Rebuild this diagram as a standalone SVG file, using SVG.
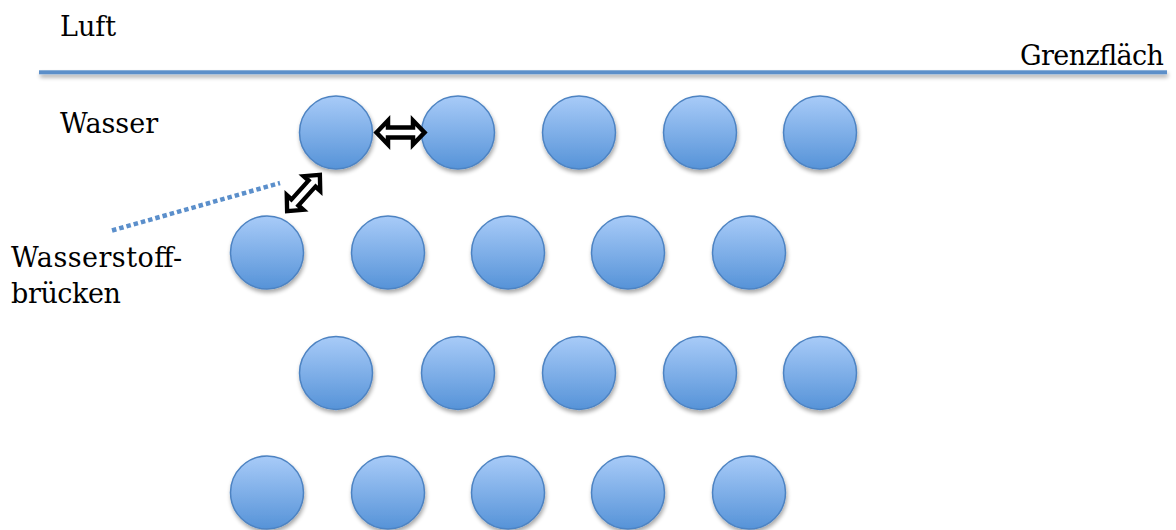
<svg xmlns="http://www.w3.org/2000/svg" width="1176" height="530" viewBox="0 0 1176 530">
<defs>
<linearGradient id="ballGrad" x1="0" y1="0" x2="0" y2="1">
<stop offset="0" stop-color="#a8cbf8"/>
<stop offset="1" stop-color="#5693d8"/>
</linearGradient>
<filter id="shadow" x="-30%" y="-30%" width="160%" height="170%">
<feGaussianBlur in="SourceAlpha" stdDeviation="2"/>
<feOffset dx="1" dy="3" result="b"/>
<feComponentTransfer><feFuncA type="linear" slope="0.35"/></feComponentTransfer>
<feMerge><feMergeNode/><feMergeNode in="SourceGraphic"/></feMerge>
</filter>
<filter id="lineShadow" filterUnits="userSpaceOnUse" x="20" y="55" width="1170" height="40">
<feGaussianBlur in="SourceAlpha" stdDeviation="2"/>
<feOffset dx="1" dy="3" result="b"/>
<feComponentTransfer><feFuncA type="linear" slope="0.35"/></feComponentTransfer>
<feMerge><feMergeNode/><feMergeNode in="SourceGraphic"/></feMerge>
</filter>
<path id="dblArrow" d="M-24,0 L-12.5,-12 L-12.5,-5 L12.5,-5 L12.5,-12 L24,0 L12.5,12 L12.5,5 L-12.5,5 L-12.5,12 Z"/>
</defs>
<style>
.t{font-family:"DejaVu Serif","Liberation Serif",serif;font-size:27px;fill:#000}
.ball{fill:url(#ballGrad);stroke:#4d83c2;stroke-width:1.5;filter:url(#shadow)}
.arr{fill:#fff;stroke:#000;stroke-width:4.5;stroke-linejoin:miter}
</style>
<rect width="1176" height="530" fill="#fff"/>
<g id="surface">
<rect x="39" y="70.3" width="1128" height="4" fill="#5b8fc9" filter="url(#lineShadow)"/>
</g>
<g id="labels">
<text class="t" x="60" y="36">Luft</text>
<text class="t" x="1020" y="65" textLength="144">Grenzfläch</text>
<text class="t" x="60" y="133">Wasser</text>
<text class="t" x="11" y="267" textLength="171">Wasserstoff-</text>
<text class="t" x="11" y="303" textLength="110">brücken</text>
</g>
<g id="row1">
<circle id="m11" class="ball" cx="336" cy="132.5" r="36.5"/>
<circle id="m12" class="ball" cx="458" cy="132.5" r="36.5"/>
<circle id="m13" class="ball" cx="579" cy="132.5" r="36.5"/>
<circle id="m14" class="ball" cx="700" cy="132.5" r="36.5"/>
<circle id="m15" class="ball" cx="820" cy="132.5" r="36.5"/>
</g>
<g id="row2">
<circle id="m21" class="ball" cx="267" cy="252.5" r="36.5"/>
<circle id="m22" class="ball" cx="388" cy="252.5" r="36.5"/>
<circle id="m23" class="ball" cx="508" cy="252.5" r="36.5"/>
<circle id="m24" class="ball" cx="628" cy="252.5" r="36.5"/>
<circle id="m25" class="ball" cx="749" cy="252.5" r="36.5"/>
</g>
<g id="row3">
<circle id="m31" class="ball" cx="336" cy="373" r="36.5"/>
<circle id="m32" class="ball" cx="458" cy="373" r="36.5"/>
<circle id="m33" class="ball" cx="579" cy="373" r="36.5"/>
<circle id="m34" class="ball" cx="700" cy="373" r="36.5"/>
<circle id="m35" class="ball" cx="820" cy="373" r="36.5"/>
</g>
<g id="row4">
<circle id="m41" class="ball" cx="267" cy="492.5" r="36.5"/>
<circle id="m42" class="ball" cx="388" cy="492.5" r="36.5"/>
<circle id="m43" class="ball" cx="508" cy="492.5" r="36.5"/>
<circle id="m44" class="ball" cx="628" cy="492.5" r="36.5"/>
<circle id="m45" class="ball" cx="749" cy="492.5" r="36.5"/>
</g>
<g id="connectors">
<line x1="112" y1="230.5" x2="280" y2="183" stroke="#5b8fcb" stroke-width="4.5" stroke-dasharray="4.5 3"/>
<use href="#dblArrow" class="arr" transform="translate(400.5,132.5)"/>
<use href="#dblArrow" class="arr" transform="translate(303.5,193) rotate(-48) scale(1.02,0.92)"/>
</g>
</svg>
